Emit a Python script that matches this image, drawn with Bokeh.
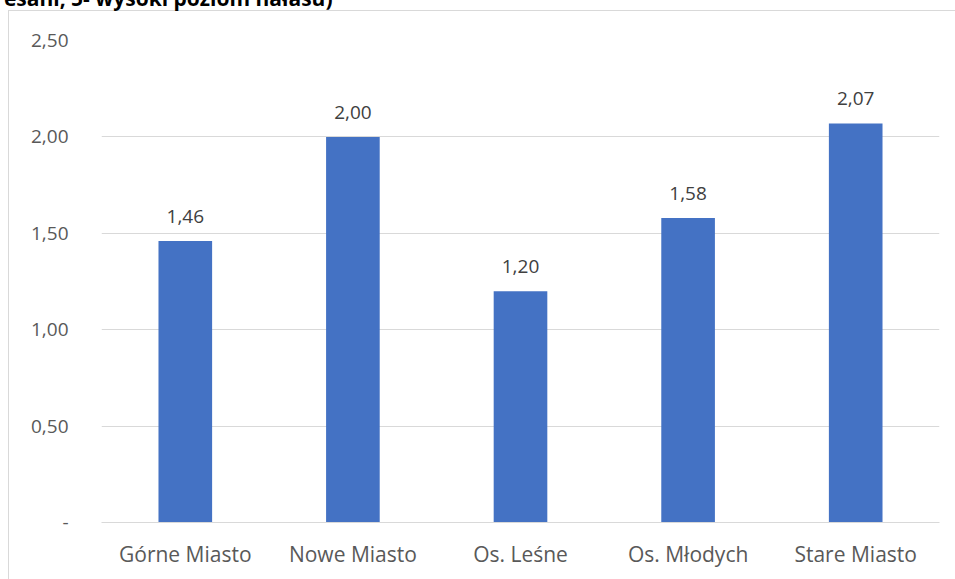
from bokeh.plotting import figure
from bokeh.models import ColumnDataSource, FactorRange, FixedTicker, LabelSet, Range1d, Title
from bokeh.core.properties import value
from bokeh.embed import file_html
from bokeh.resources import INLINE

categories = ["Górne Miasto", "Nowe Miasto", "Os. Leśne", "Os. Młodych", "Stare Miasto"]
values = [1.46, 2.00, 1.20, 1.58, 2.07]
y_ticks = [0, 0.5, 1.0, 1.5, 2.0, 2.5]
y_tick_labels = ["-", "0,50", "1,00", "1,50", "2,00", "2,50"]
title_text = "esani, 5- wysoki poziom hałasu)"

FONT = "Open Sans"
BORDER = "#d9d9d9"
SHIFT = 60  # canvas is pulled up so the chart title is cut at the top edge

src = ColumnDataSource(dict(
    cat=categories,
    val=values,
    lab=[f"{v:.2f}".replace(".", ",") for v in values],
))

p = figure(width=955, height=579 + SHIFT, x_range=FactorRange(*categories, range_padding=0),
           y_range=Range1d(0, 2.5), output_backend="svg", toolbar_location=None,
           min_border_left=101, min_border_right=16, min_border_top=40 + SHIFT,
           min_border_bottom=57)
p.styles = {
    "margin-top": f"-{SHIFT}px",
    "background-color": "white",
    "background-image": f"linear-gradient({BORDER},{BORDER}), linear-gradient({BORDER},{BORDER})",
    "background-size": "1px 100%, 100% 1px",
    "background-position": f"8px {10 + SHIFT}px, 8px {10 + SHIFT}px",
    "background-repeat": "no-repeat",
}
p.outline_line_color = None
p.background_fill_color = None
p.border_fill_color = None

p.add_layout(Title(text=title_text, align="right", offset=607, standoff=57,
                   vertical_align="bottom", text_font=FONT, text_font_style="bold",
                   text_font_size="21px", text_color="black"), "above")

p.vbar(x="cat", top="val", width=0.32, source=src, fill_color="#4472C4", line_color=None)

p.add_layout(LabelSet(x="cat", y="val", text="lab", source=src, text_align="center",
                      text_baseline="alphabetic", y_offset=18, text_font=value(FONT),
                      text_font_size="19px", text_color="#404040"))

p.yaxis.ticker = FixedTicker(ticks=y_ticks)
p.yaxis.major_label_overrides = dict(zip(y_ticks, y_tick_labels))
p.yaxis.axis_line_color = None
p.yaxis.major_tick_line_color = None
p.yaxis.minor_tick_line_color = None
p.yaxis.major_label_standoff = 27
p.yaxis.major_label_text_font = FONT
p.yaxis.major_label_text_font_size = "19px"
p.yaxis.major_label_text_color = "#595959"

p.xaxis.axis_line_color = BORDER
p.xaxis.major_tick_line_color = None
p.xaxis.minor_tick_line_color = None
p.xaxis.major_label_standoff = 11
p.xaxis.major_label_text_font = FONT
p.xaxis.major_label_text_font_size = "21px"
p.xaxis.major_label_text_color = "#595959"

p.xgrid.grid_line_color = None
p.ygrid.grid_line_color = BORDER
p.ygrid.grid_line_width = 1

open("out.html", "w").write(file_html(p, INLINE))
